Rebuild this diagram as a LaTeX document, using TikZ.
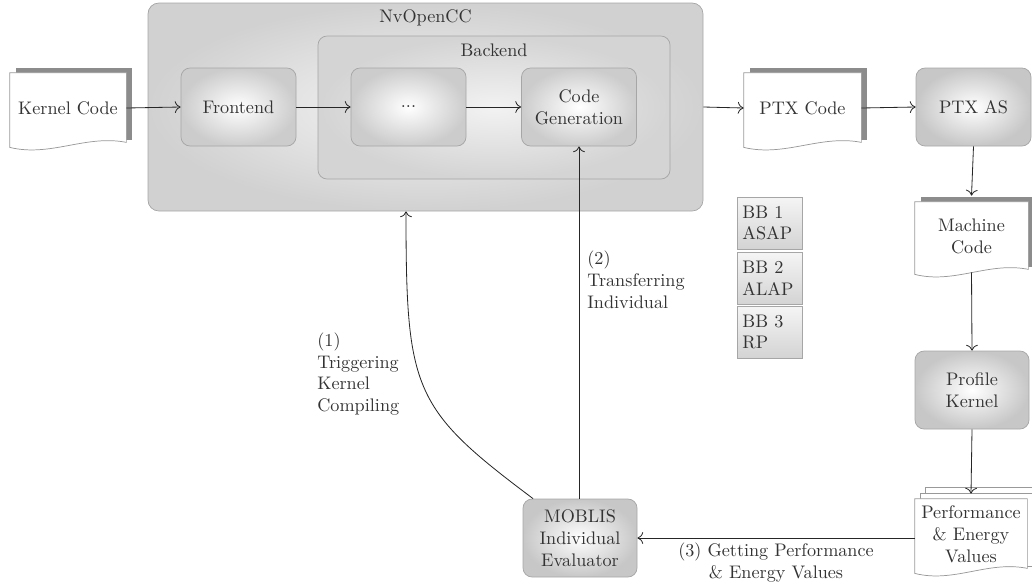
\documentclass[tikz,border=0pt]{standalone}
\usetikzlibrary{calc,backgrounds,arrows.meta}
\begin{document}
\begin{tikzpicture}[x=0.55pt,y=-0.55pt,
  font=\fontsize{10}{12}\selectfont,
  every node/.style={text=black!80},
  conn/.style={draw=black!85, line width=0.45pt, -{To[length=3.2pt,width=6.5pt]}},
  outerbox/.style={draw=black!35, rounded corners=6pt, inner color=black!4, outer color=black!18},
  backbox/.style={draw=black!35, rounded corners=5pt, inner color=black!5, outer color=black!17},
  inbox/.style={draw=black!35, rounded corners=5pt, inner color=white, outer color=black!20,
    minimum width=115*0.55pt, minimum height=78*0.55pt, align=center},
  box/.style={draw=black!35, rounded corners=5pt, inner color=white, outer color=black!22,
    minimum width=115*0.55pt, minimum height=78*0.55pt, align=center},
  grouplabel/.style={},
  doc/.style={minimum height=70*0.55pt, align=center, inner sep=0pt},
  bbbox/.style={draw=black!35, top color=black!4, bottom color=black!17,
    minimum height=52*0.55pt, inner xsep=3pt, text width=65*0.55pt-6pt, align=left},
  lbl/.style={align=left, anchor=west, inner sep=0pt}
]
\useasboundingbox (0,0) rectangle (1032,586);

% NvOpenCC group
\node[outerbox, minimum width=555*0.55pt, minimum height=208*0.55pt] (nv) at (425.5,107) {};
\node[grouplabel] (nvlab) at (425.5,18) {NvOpenCC};
\node[backbox, minimum width=352*0.55pt, minimum height=143*0.55pt] (be) at (494,107.5) {};
\node[grouplabel] (belab) at (494,50) {Backend};
\node[inbox] (fe) at (238.5,107) {Frontend};
\node[inbox] (dots) at (408.5,107) {...};
\node[inbox] (cg) at (579,107) {Code\\Generation};

% documents
\node[doc, minimum width=116*0.55pt] (kc) at (68,108) {Kernel Code};
\node[doc, minimum width=117*0.55pt] (ptx) at (802.5,108) {PTX Code};
\node[doc, minimum width=113*0.55pt, minimum height=68*0.55pt] (mc) at (971.5,236) {Machine\\Code};
\node[doc, minimum width=112*0.55pt] (perf) at (971,534) {Performance\\\& Energy\\Values};

% boxes
\node[box] (ptxas) at (973.5,107) {PTX AS};
\node[box, minimum width=114*0.55pt] (pk) at (972,390) {Profile\\Kernel};
\node[box, minimum width=114*0.55pt] (mob) at (580,538) {MOBLIS\\Individual\\Evaluator};

% BB boxes
\node[bbbox] (bb1) at (769.5,223) {BB 1\\ASAP};
\node[bbbox] (bb2) at (769.5,278) {BB 2\\ALAP};
\node[bbbox] (bb3) at (769.5,332) {BB 3\\RP};

% document shapes
\newcommand\mydocshape[1]{%
  \fill[black!45] ($(#1.north west)+(6,-5)$) rectangle ($(#1.south east)+(6,-3)$);
  \filldraw[draw=black!40, fill=white, line width=0.4pt] (#1.north west) -- (#1.north east) -- ($(#1.south east)+(0,-1)$)
    .. controls ($(#1.south west)!0.65!(#1.south east)+(0,-9)$) and ($(#1.south west)!0.35!(#1.south east)+(0,14)$)
    .. ($(#1.south west)+(0,4)$) -- cycle;}
\begin{scope}[on background layer]
  \mydocshape{kc}
  \mydocshape{ptx}
  \mydocshape{mc}
  \filldraw[draw=black!40, fill=white] ($(perf.north west)+(11,-11)$) rectangle ($(perf.south east)+(11,-8)$);
  \filldraw[draw=black!40, fill=white] ($(perf.north west)+(5.5,-5.5)$) rectangle ($(perf.south east)+(5.5,-3)$);
  \filldraw[draw=black!40, fill=white] (perf.north west) -- (perf.north east) -- ($(perf.south east)+(0,-1)$)
    .. controls ($(perf.south west)!0.65!(perf.south east)+(0,-9)$) and ($(perf.south west)!0.35!(perf.south east)+(0,14)$)
    .. ($(perf.south west)+(0,4)$) -- cycle;
\end{scope}

% connectors
\draw[conn] (kc.east) -- (fe.west);
\draw[conn] (fe.east) -- (dots.west);
\draw[conn] (dots.east) -- (cg.west);
\draw[conn] (nv.east) -- (ptx.west);
\draw[conn] (ptx.east) -- (ptxas.west);
\draw[conn] (ptxas.south) -- ($(mc.north)+(0,-6)$);
\draw[conn] ($(mc.south)+(0,2)$) -- (pk.north);
\draw[conn] (pk.south) -- ($(perf.north)+(0,-5)$);
\draw[conn] (perf.west |- mob.east) -- node[below, midway, align=center, inner sep=2.5pt] (l3) {(3) Getting Performance\\\& Energy Values} (mob.east);
\draw[conn] (mob.north -| cg.south) -- (cg.south);
\draw[conn] (mob.140) .. controls +(-120,-90) and +(0,180) .. ($(nv.south)+(-19.5,0)$);

\node[lbl] (l1) at (317,374) {(1)\\Triggering\\Kernel\\Compiling};
\node[lbl] (l2) at (587,280) {(2)\\Transferring\\Individual};
\end{tikzpicture}
\end{document}
